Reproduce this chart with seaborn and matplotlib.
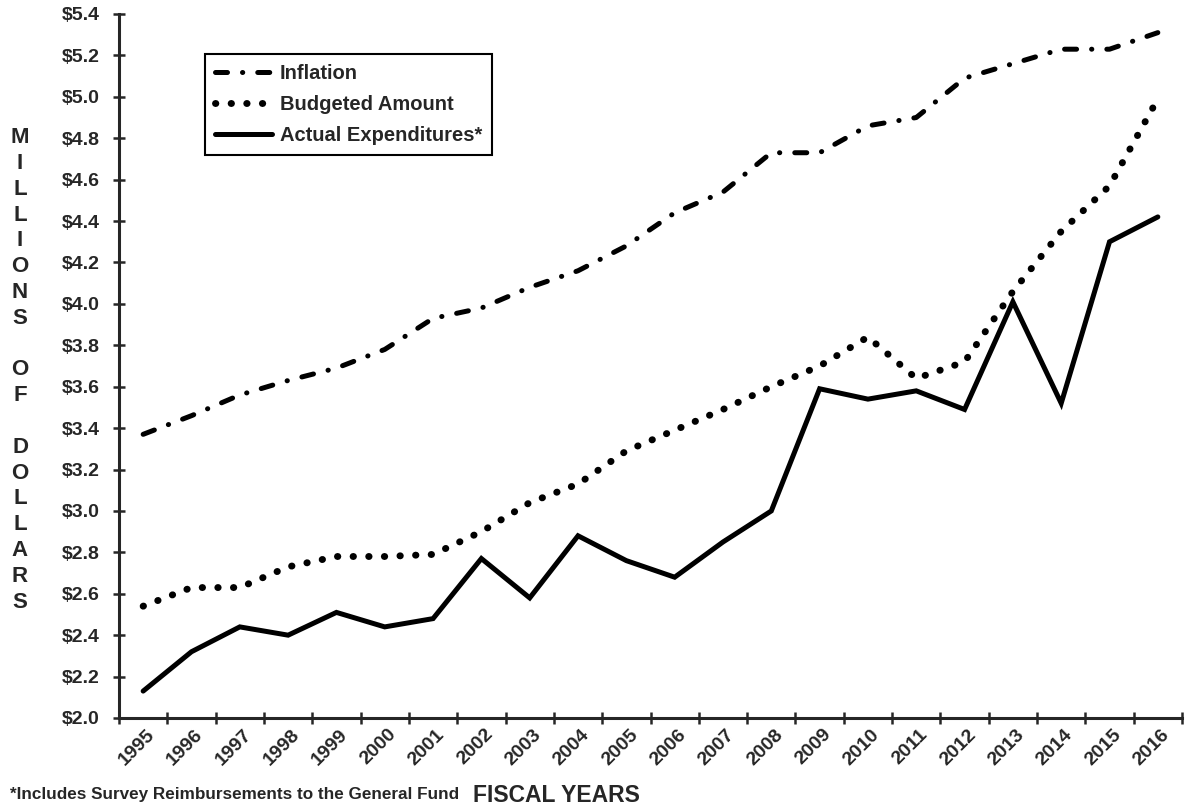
import numpy as np
import pandas as pd
import seaborn as sns
import matplotlib.transforms as mtransforms
from matplotlib import pyplot as plt

# values (millions of dollars)
years = [str(y) for y in range(1995, 2017)]
inflation = [3.37, 3.46, 3.56, 3.63, 3.69, 3.78, 3.93, 3.98, 4.08, 4.16, 4.28,
             4.44, 4.54, 4.73, 4.73, 4.86, 4.90, 5.09, 5.16, 5.23, 5.23, 5.31]
budgeted = [2.54, 2.63, 2.63, 2.73, 2.78, 2.78, 2.79, 2.90, 3.04, 3.13, 3.29,
            3.39, 3.49, 3.60, 3.70, 3.84, 3.64, 3.72, 4.06, 4.35, 4.57, 4.99]
actual = [2.13, 2.32, 2.44, 2.40, 2.51, 2.44, 2.48, 2.77, 2.58, 2.88, 2.76,
          2.68, 2.85, 3.00, 3.59, 3.54, 3.58, 3.49, 4.01, 3.52, 4.30, 4.42]
y_ticks = np.round(np.arange(2.0, 5.41, 0.2), 1)

sns.set_style("ticks")
plt.rcParams['font.family'] = ['Liberation Sans', 'DejaVu Sans']
plt.rcParams['font.weight'] = 'bold'

df = pd.DataFrame({
    'pos': range(len(years)),
    'Inflation': inflation,
    'Budgeted Amount': budgeted,
    'Actual Expenditures*': actual,
})

fig = plt.figure(figsize=(11.89, 8.08), dpi=100)
ax = fig.add_axes([119 / 1189, 90 / 808, 1063 / 1189, 704 / 808])

sns.lineplot(data=df, x='pos', y='Inflation', ax=ax, color='black', lw=3.6,
             linestyle=(0, (2.4, 3.0, 0.05, 3.0)), dash_capstyle='round',
             label='Inflation')
sns.lineplot(data=df, x='pos', y='Budgeted Amount', ax=ax, color='black', lw=5,
             linestyle=(0, (0.05, 2.2)), dash_capstyle='round',
             label='Budgeted Amount')
sns.lineplot(data=df, x='pos', y='Actual Expenditures*', ax=ax, color='black',
             lw=3.6, solid_joinstyle='miter', label='Actual Expenditures*')

ax.set_xlim(-0.5, len(years) - 0.5)
ax.set_ylim(2.0, 5.4)
ax.set_xlabel('')
ax.set_ylabel('')

ax.set_yticks(y_ticks)
ax.set_yticklabels([f'${v:.1f}' for v in y_ticks])
ax.set_xticks(range(len(years)))
ax.set_xticklabels(years, rotation=45, ha='right', va='center',
                   rotation_mode='anchor')
ax.set_xticks(np.arange(-0.5, len(years), 1), minor=True)
ax.tick_params(axis='x', which='major', length=0, pad=10, labelsize=14)
ax.tick_params(axis='x', which='minor', direction='inout', length=8, width=1.8)
ax.tick_params(axis='y', direction='inout', length=8.6, width=1.8, pad=9.4,
               labelsize=14)
shift = mtransforms.ScaledTranslation(9 / 100, 0, fig.dpi_scale_trans)
for lbl in ax.get_xticklabels():
    lbl.set_transform(lbl.get_transform() + shift)

sns.despine(ax=ax)
for s in ['left', 'bottom']:
    ax.spines[s].set_linewidth(2.2)

leg = ax.legend(loc='upper left', bbox_to_anchor=(0.081, 0.943),
                borderaxespad=0, fancybox=False, edgecolor='black',
                framealpha=1, handlelength=2.8, handletextpad=0.4,
                labelspacing=0.6, borderpad=0.5, fontsize=14.5)
leg.get_frame().set_linewidth(1.5)

fig.text(20 / 1189, 1 - 370 / 808,
         "M\nI\nL\nL\nI\nO\nN\nS\n\nO\nF\n\nD\nO\nL\nL\nA\nR\nS",
         ha='center', va='center', fontsize=16, linespacing=1.3)
fig.text(10 / 1189, 1 - 795 / 808,
         "*Includes Survey Reimbursements to the General Fund",
         ha='left', va='center', fontsize=12.3)
fig.text(556 / 1189, 1 - 795 / 808, "FISCAL YEARS",
         ha='center', va='center', fontsize=16.5)

fig.savefig('out.png', dpi=100)
